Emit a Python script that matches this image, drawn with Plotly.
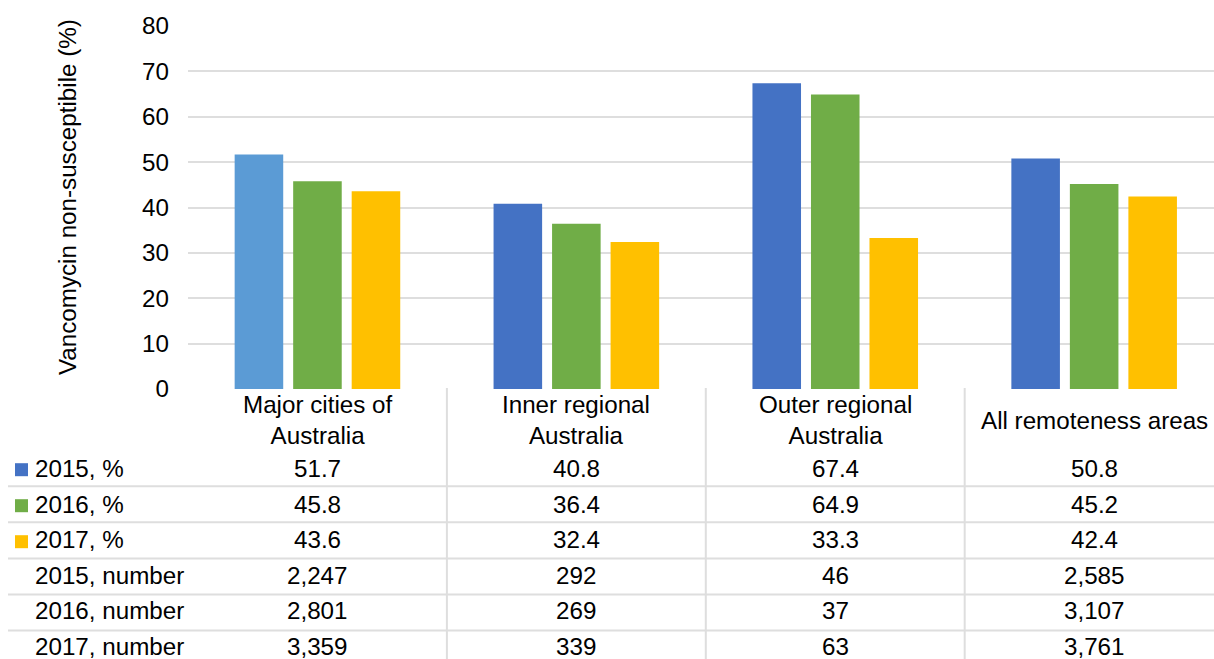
import plotly.graph_objects as go

# ---------------- data ----------------
categories = ["Major cities of<br>Australia", "Inner regional<br>Australia",
              "Outer regional<br>Australia", "All remoteness areas"]
pct_2015 = [51.7, 40.8, 67.4, 50.8]
pct_2016 = [45.8, 36.4, 64.9, 45.2]
pct_2017 = [43.6, 32.4, 33.3, 42.4]
num_2015 = [2247, 292, 46, 2585]
num_2016 = [2801, 269, 37, 3107]
num_2017 = [3359, 339, 63, 3761]
row_labels = ["2015, %", "2016, %", "2017, %",
              "2015, number", "2016, number", "2017, number"]
y_ticks = [0, 10, 20, 30, 40, 50, 60, 70, 80]
y_title = "Vancomycin non-susceptibile (%)"

# ---------------- styles ----------------
C2015 = "#4472C4"
C2015_FIRST = "#5B9BD5"
C2016 = "#70AD47"
C2017 = "#FFC000"
GRID = "#DEDEDE"
FONT = "Liberation Sans, Arial, sans-serif"
FS = 24.2

W, H = 1214, 659
PLOT_L, PLOT_T, PLOT_B = 188, 26, 389
CAT_W = 258.9
x_range = [-0.5, -0.5 + (W - PLOT_L) / CAT_W]


def py(pix):
    """pixel y -> paper y"""
    return (PLOT_B - pix) / (PLOT_B - PLOT_T)


def px(pix):
    """pixel x -> paper x"""
    return (pix - PLOT_L) / (W - PLOT_L)


x_idx = list(range(len(categories)))

fig = go.Figure()
fig.add_bar(x=x_idx, y=pct_2015, name="2015, %",
            marker=dict(color=[C2015_FIRST] + [C2015] * (len(x_idx) - 1), line=dict(width=0)))
fig.add_bar(x=x_idx, y=pct_2016, name="2016, %", marker=dict(color=C2016, line=dict(width=0)))
fig.add_bar(x=x_idx, y=pct_2017, name="2017, %", marker=dict(color=C2017, line=dict(width=0)))

shapes = []
annotations = []

# y axis title
annotations.append(dict(x=px(67), xref="paper", y=py(197), yref="paper", text=y_title,
                        textangle=-90, showarrow=False, xanchor="center", yanchor="middle",
                        font=dict(size=FS, color="black", family=FONT)))

# header row (category labels)
for i, c in enumerate(categories):
    annotations.append(dict(x=i, xref="x", y=py(420), yref="paper", text=c,
                            showarrow=False, xanchor="center", yanchor="middle",
                            align="center", font=dict(size=FS, color="black", family=FONT)))

# table rows
row_values = [
    [f"{v:.1f}" for v in pct_2015],
    [f"{v:.1f}" for v in pct_2016],
    [f"{v:.1f}" for v in pct_2017],
    [f"{v:,}" for v in num_2015],
    [f"{v:,}" for v in num_2016],
    [f"{v:,}" for v in num_2017],
]
key_colors = [C2015, C2016, C2017, None, None, None]
TXT0, TXT_H = 468.5, 35.5
LINE0, LINE_H = 486.2, 36.1
for r, (lab, vals) in enumerate(zip(row_labels, row_values)):
    yc = TXT0 + r * TXT_H
    annotations.append(dict(x=px(33), xref="paper", y=py(yc), yref="paper", text=lab,
                            showarrow=False, xanchor="left", yanchor="middle",
                            font=dict(size=FS, color="black", family=FONT)))
    for i, v in enumerate(vals):
        annotations.append(dict(x=i, xref="x", y=py(yc), yref="paper", text=v,
                                showarrow=False, xanchor="center", yanchor="middle",
                                font=dict(size=FS, color="black", family=FONT)))
    if key_colors[r]:
        ks = 469.7 + r * 36
        shapes.append(dict(type="rect", xref="paper", yref="paper",
                           x0=px(15), x1=px(28), y0=py(ks - 6.5), y1=py(ks + 6.5),
                           fillcolor=key_colors[r], line=dict(width=0)))
    if r > 0:
        yl = LINE0 + (r - 1) * LINE_H
        shapes.append(dict(type="line", xref="paper", yref="paper",
                           x0=px(8), x1=1, y0=py(yl), y1=py(yl),
                           line=dict(color=GRID, width=2)))

# vertical table lines between categories
for i in range(len(categories) - 1):
    shapes.append(dict(type="line", xref="x", yref="paper",
                       x0=i + 0.5, x1=i + 0.5, y0=py(388), y1=py(H + 5),
                       line=dict(color=GRID, width=2)))

fig.update_layout(
    width=W, height=H,
    margin=dict(l=PLOT_L, r=0, t=PLOT_T, b=H - PLOT_B, autoexpand=False),
    paper_bgcolor="white", plot_bgcolor="white",
    barmode="group", bargap=0.322, bargroupgap=0.17,
    showlegend=False,
    font=dict(family=FONT, size=FS, color="black"),
    shapes=shapes, annotations=annotations,
    xaxis=dict(range=x_range, showticklabels=False, showgrid=False, zeroline=False,
               showline=False, ticks=""),
    yaxis=dict(range=[0, 80], tickvals=y_ticks, showgrid=True, gridcolor=GRID, gridwidth=2,
               zeroline=False, showline=False, ticks="", ticklabelstandoff=18,
               tickfont=dict(size=FS, color="black", family=FONT)),
)

fig.write_html("out.html", config={"displayModeBar": False},
               post_script="document.body.style.margin='0';document.body.style.overflow='hidden';")
